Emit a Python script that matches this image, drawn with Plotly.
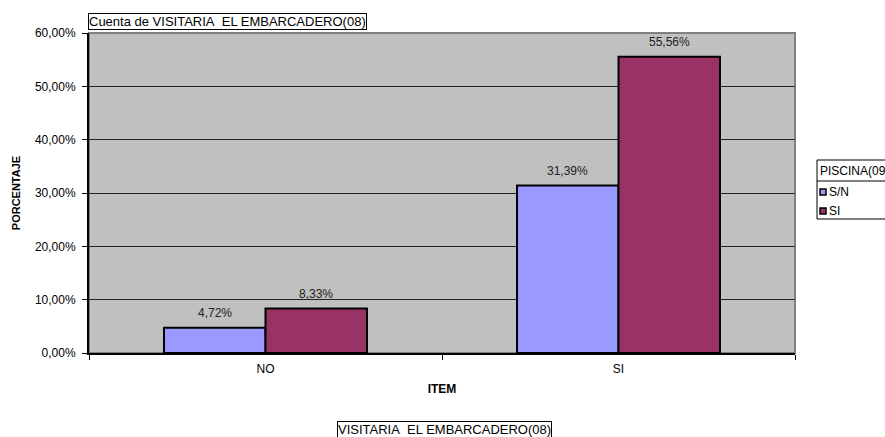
import plotly.graph_objects as go

categories = ["NO", "SI"]
series_names = ["S/N", "SI"]
sn_values = [0.0472, 0.3139]
si_values = [0.0833, 0.5556]
colors = ["#9999FF", "#993366"]
y_ticks = [0, 0.1, 0.2, 0.3, 0.4, 0.5, 0.6]

W, H = 885, 437
L, R, T, B = 89, 795, 33, 353
BARGAP = 0.425

def px(x):
    return (x - L) / (R - L)

def py(y):
    return (B - y) / (B - T)

FONT = "Liberation Sans, Arial, sans-serif"
FS = 12

fig = go.Figure()
all_series = [sn_values, si_values]
for name, vals, col in zip(series_names, all_series, colors):
    fig.add_trace(go.Bar(
        x=categories, y=vals, name=name,
        marker=dict(color=col, line=dict(color="black", width=2)),
        hoverinfo="x+y+name",
    ))

# value labels above each bar (offset within group computed from bar layout)
n = len(all_series)
bar_w = (1 - BARGAP) / n
annotations = []
for si, vals in enumerate(all_series):
    off = -(1 - BARGAP) / 2 + bar_w * (si + 0.5)
    for ci, v in enumerate(vals):
        annotations.append(dict(
            x=ci + off, y=v, xref="x", yref="y",
            text=f"{v * 100:.2f}%".replace(".", ","),
            showarrow=False, yanchor="bottom", xanchor="center", yshift=6,
            font=dict(family=FONT, size=FS, color="#222222"),
        ))

shapes = [
    dict(type="rect", xref="paper", yref="paper", x0=0, x1=1, y0=0, y1=1,
         line=dict(color="#808080", width=2), layer="below"),
    dict(type="rect", xref="paper", yref="paper", x0=px(817), x1=px(900),
         y0=py(219), y1=py(160), line=dict(color="black", width=1),
         fillcolor="white", layer="above"),
    dict(type="line", xref="paper", yref="paper", x0=px(817), x1=px(900),
         y0=py(181), y1=py(181), line=dict(color="black", width=1)),
]
legend_y = [192, 211]
for yy, col in zip(legend_y, colors):
    shapes.append(dict(type="rect", xref="paper", yref="paper",
                       x0=px(820), x1=px(826), y0=py(yy + 3), y1=py(yy - 3),
                       fillcolor=col, line=dict(color="black", width=1.5)))

annotations += [
    dict(text="Cuenta de VISITARIA\u00a0 EL EMBARCADERO(08)", xref="paper", yref="paper",
         x=px(88), y=py(30), xanchor="left", yanchor="bottom", showarrow=False,
         font=dict(family=FONT, size=13, color="black"),
         bordercolor="black", borderwidth=1, borderpad=0, bgcolor="white"),
    dict(text="VISITARIA\u00a0 EL EMBARCADERO(08)", xref="paper", yref="paper",
         x=px(444), y=py(429), xanchor="center", yanchor="middle", showarrow=False,
         font=dict(family=FONT, size=13, color="black"),
         bordercolor="black", borderwidth=1, borderpad=0, bgcolor="white"),
    dict(text="PISCINA(09)", xref="paper", yref="paper",
         x=px(818), y=py(171), xanchor="left", yanchor="middle", showarrow=False,
         font=dict(family=FONT, size=FS, color="black")),
]
for yy, name in zip(legend_y, series_names):
    annotations.append(dict(text=name, xref="paper", yref="paper",
                            x=px(827), y=py(yy), xanchor="left", yanchor="middle",
                            showarrow=False, font=dict(family=FONT, size=FS, color="black")))

fig.update_layout(
    width=W, height=H,
    margin=dict(l=L, r=W - R, t=T, b=H - B, autoexpand=False),
    paper_bgcolor="white", plot_bgcolor="#C0C0C0",
    separators=",.",
    barmode="group", bargap=BARGAP, bargroupgap=0,
    showlegend=False,
    font=dict(family=FONT, size=FS, color="black"),
    shapes=shapes, annotations=annotations,
    xaxis=dict(
        showgrid=False, showline=True, linecolor="black", linewidth=2,
        ticks="outside", ticklen=5, tickcolor="black", tickwidth=1,
        tickson="boundaries", ticklabelstandoff=4,
        tickfont=dict(family=FONT, size=FS, color="black"),
        title=dict(text="<b>ITEM</b>", font=dict(family=FONT, size=FS), standoff=9),
    ),
    yaxis=dict(
        range=[0, 0.6], tickvals=y_ticks, tickformat=".2%",
        showgrid=True, gridcolor="#222222", gridwidth=1,
        showline=True, linecolor="black", linewidth=2,
        ticks="outside", ticklen=5, tickcolor="black", ticklabelstandoff=4,
        tickfont=dict(family=FONT, size=FS, color="black"),
        zeroline=False,
        title=dict(text="<b>PORCENTAJE</b>", font=dict(family=FONT, size=11), standoff=12),
    ),
)

fig.write_html("out.html", config={"displayModeBar": False},
               post_script="document.body.style.margin='0px';")
